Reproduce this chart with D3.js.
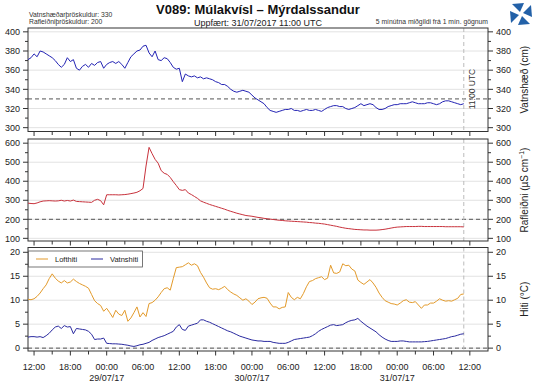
<!DOCTYPE html>
<html>
<head>
<meta charset="utf-8">
<script src="https://cdn.jsdelivr.net/npm/d3@7"></script>
<style>
  body { margin: 0; background: #fff; }
  svg { display: block; font-family: "Liberation Sans", Arial, Helvetica, sans-serif; }
</style>
</head>
<body>
<svg id="chart" width="540" height="387"></svg>
<script>
// --- gögn: 30 mínútna gildi frá 28/07/17 11:00 UTC til 31/07/17 11:00 UTC ---
const startTime = Date.UTC(2017, 6, 28, 11, 0);
const stepMinutes = 30;

const vatnshaed = [
  371, 373, 377, 374, 380, 379, 377, 375, 373, 370, 366, 363, 366, 373, 369, 371,
  362, 360, 364, 366, 363, 367, 365, 368, 369, 362, 366, 368, 369, 367, 369, 366,
  362, 368, 374, 377, 380, 381, 385, 386, 378, 374, 380, 371, 370, 373, 372, 368,
  363, 361, 362, 348, 356, 354, 353, 354, 352, 353, 351, 352, 351, 350, 348, 347,
  345, 345, 343, 340, 338, 337, 338, 339, 338, 337, 334, 331, 329, 327, 325, 321,
  318, 317, 316, 317, 318, 319, 319, 320, 318, 318, 317, 318, 319, 318, 318, 319,
  318, 317, 319, 321, 322, 323, 323, 322, 322, 320, 319, 320, 321, 323, 325, 323,
  324, 325, 324, 321, 319, 319, 320, 322, 323, 324, 324, 325, 325, 325, 326, 327,
  326, 325, 325, 325, 326, 326, 325, 324, 325, 327, 328, 328, 327, 326, 325, 324,
  325
];

const rafleidni = [
  285, 283, 282, 286, 292, 296, 297, 298, 297, 296, 297, 300, 296, 299, 296, 301,
  294, 293, 292, 291, 290, 289, 300, 305, 298, 276, 329, 329, 329, 329, 328, 329,
  330, 332, 335, 338, 342, 350, 362, 480, 578, 545, 515, 495, 456, 442, 436, 420,
  398, 378, 356, 352, 356, 338, 330, 320, 310, 297, 290, 284, 278, 273, 268, 263,
  258, 253, 247, 242, 237, 232, 228, 224, 220, 218, 216, 213, 210, 208, 205, 203,
  201, 199, 197, 195, 194, 192, 191, 190, 189, 188, 187, 186, 185, 183, 182, 180,
  179, 177, 175, 172, 169, 166, 163, 159, 156, 153, 151, 149, 147, 146, 145, 144,
  144, 143, 143, 143, 144, 146, 148, 151, 154, 157, 159, 160, 161, 162, 162, 162,
  162, 163, 163, 162, 162, 162, 162, 162, 162, 162, 161, 161, 161, 161, 161, 161,
  160
];

const lofthiti = [
  10.2, 10.1, 10.3, 10.8, 11.5, 12.4, 13.2, 14.5, 15.5, 14.6, 14.0, 13.6, 14.1, 13.6, 13.8, 14.4,
  13.9, 13.5, 13.2, 12.9, 12.5, 11.2, 9.9, 9.3, 8.9, 7.7, 8.3, 7.4, 6.4, 7.9, 7.1, 6.8,
  7.9, 5.6, 6.3, 7.4, 8.6, 6.5, 7.4, 6.6, 9.3, 9.5, 10.0, 10.7, 11.6, 12.4, 12.6, 12.1,
  14.5, 16.8, 16.9, 17.0, 17.4, 17.8, 17.3, 17.6, 17.2, 15.8, 14.8, 13.6, 12.6, 12.3, 12.4, 12.2,
  12.5, 12.9, 12.2, 11.7, 11.3, 11.0, 10.5, 10.0, 10.3, 9.8, 9.1, 9.6, 10.3, 10.5, 10.6, 10.4,
  9.4, 8.6, 8.6, 8.2, 8.5, 8.6, 11.6, 10.6, 10.1, 10.6, 10.3, 11.4, 12.8, 13.9, 14.1, 14.5,
  14.7, 14.9, 14.3, 14.6, 17.3, 15.7, 15.6, 15.9, 17.6, 17.2, 17.3, 16.5, 16.1, 14.2, 13.7, 13.3,
  13.8, 14.3, 13.6, 12.7, 11.5, 10.6, 9.9, 9.6, 9.3, 9.2, 9.0, 9.4, 9.9, 10.1, 9.6, 9.5,
  9.7, 9.0, 8.3, 9.0, 9.0, 9.4, 9.4, 9.8, 10.3, 10.0, 9.8, 9.9, 9.8, 10.1, 10.4, 11.2,
  11.3
];

const vatnshiti = [
  2.3, 2.4, 2.4, 2.3, 2.4, 2.2, 2.6, 3.1, 3.8, 4.4, 4.6, 4.1, 4.7, 4.4, 4.5, 3.0,
  4.1, 4.0, 3.9, 3.8, 3.5, 2.9, 1.8, 1.9, 1.9, 2.1, 1.0, 0.95, 0.9, 0.9, 0.85, 0.8,
  0.7, 0.6, 0.45, 0.35, 0.5, 0.7, 0.8, 1.0, 1.2, 1.6, 1.9, 2.2, 2.4, 2.6, 2.9, 3.2,
  3.5, 4.4, 4.9, 3.9, 3.7, 4.6, 4.8, 5.0, 5.2, 5.9, 5.9, 5.6, 5.4, 5.1, 4.8, 4.5,
  4.2, 3.9, 3.6, 3.4, 3.1, 2.8, 2.5, 2.3, 2.1, 1.9, 1.7, 1.6, 1.5, 1.5, 1.4, 1.4,
  1.4, 1.2, 1.1, 1.0, 1.0, 1.0, 1.2, 1.5, 1.8, 1.9, 2.0, 2.1, 2.2, 2.3, 2.6, 3.0,
  3.5, 3.9, 4.2, 4.5, 4.8, 4.9, 4.7, 4.8, 4.9, 5.3, 5.6, 5.8, 5.9, 6.2, 5.6, 5.1,
  4.6, 4.2, 3.8, 3.4, 2.8, 2.3, 1.9, 1.6, 1.4, 1.4, 1.4, 1.5, 1.5, 1.4, 1.3, 1.3,
  1.3, 1.3, 1.3, 1.35, 1.4, 1.5, 1.6, 1.7, 1.8, 1.9, 2.0, 2.2, 2.4, 2.5, 2.7, 2.9,
  3.0
];

const vatnshaedTicks = [300, 320, 340, 360, 380, 400];
const rafleidniTicks = [100, 200, 300, 400, 500, 600];
const hitiTicks = [0, 5, 10, 15, 20];
const thresholds = [330, 200, 0];

const times = vatnshaed.map((_, i) => new Date(startTime + i * stepMinutes * 60000));
const nowTime = new Date(Date.UTC(2017, 6, 31, 11, 0));

const svg = d3.select("#chart");
const L = 28, R = 488;

const x = d3.scaleUtc()
  .domain([new Date(Date.UTC(2017, 6, 28, 11)), new Date(Date.UTC(2017, 6, 31, 15))])
  .range([L, R]);

const panels = [
  { top: 28, bottom: 131.5, domain: [296, 404], ticks: vatnshaedTicks, minor: 10, thr: thresholds[0],
    title: "Vatnshæð (cm)" },
  { top: 139, bottom: 241, domain: [86, 622], ticks: rafleidniTicks, minor: 50, thr: thresholds[1],
    title: null },
  { top: 247.5, bottom: 351, domain: [-0.6, 21], ticks: hitiTicks, minor: 2.5, thr: thresholds[2],
    title: "Hiti (°C)" }
];
panels.forEach(p => { p.y = d3.scaleLinear().domain(p.domain).range([p.bottom, p.top]); });

const majorHours = d3.utcHour.every(6).range(x.domain()[0], x.domain()[1]);
const minorHours = d3.utcHour.every(3).range(x.domain()[0], x.domain()[1]);

function drawPanel(p) {
  const g = svg.append("g");
  // grid
  g.append("g").selectAll("line")
    .data(p.ticks)
    .join("line")
    .attr("x1", L).attr("x2", R)
    .attr("y1", d => p.y(d)).attr("y2", d => p.y(d))
    .attr("stroke", "#e2e2e2").attr("stroke-width", 1);

  // threshold
  g.append("line")
    .attr("x1", L).attr("x2", R)
    .attr("y1", p.y(p.thr)).attr("y2", p.y(p.thr))
    .attr("stroke", "#555").attr("stroke-width", 1)
    .attr("stroke-dasharray", "4,3");

  // 11:00 lína
  g.append("line")
    .attr("x1", x(nowTime)).attr("x2", x(nowTime))
    .attr("y1", p.top).attr("y2", p.bottom)
    .attr("stroke", "#bbb").attr("stroke-width", 1)
    .attr("stroke-dasharray", "4,3");

  // ásar vinstri/hægri
  const minorVals = d3.range(Math.ceil(p.domain[0] / p.minor) * p.minor, p.domain[1], p.minor);
  [[L, -1], [R, 1]].forEach(([xx, dir]) => {
    g.append("g").selectAll("line")
      .data(minorVals)
      .join("line")
      .attr("x1", xx).attr("x2", d => xx + dir * (p.ticks.includes(d) ? 5 : 3))
      .attr("y1", d => p.y(d)).attr("y2", d => p.y(d))
      .attr("stroke", "#333");
    g.append("g").selectAll("text")
      .data(p.ticks)
      .join("text")
      .attr("x", xx + dir * 8)
      .attr("y", d => p.y(d) + 3.2)
      .attr("text-anchor", dir < 0 ? "end" : "start")
      .attr("font-size", 9)
      .attr("fill", "#222")
      .text(d => d);
  });

  // tímatikk neðst
  g.append("g").selectAll("line")
    .data(minorHours)
    .join("line")
    .attr("x1", d => x(d)).attr("x2", d => x(d))
    .attr("y1", p.bottom).attr("y2", d => p.bottom + (d.getUTCHours() % 6 === 0 ? 4.5 : 3.5))
    .attr("stroke", "#333");

  // rammi
  g.append("rect")
    .attr("x", L).attr("y", p.top)
    .attr("width", R - L).attr("height", p.bottom - p.top)
    .attr("fill", "none").attr("stroke", "#333").attr("stroke-width", 1);
  return g;
}

panels.forEach(drawPanel);

function drawSeries(p, values, color) {
  const line = d3.line()
    .x((d, i) => x(times[i]))
    .y(d => p.y(d));
  svg.append("path")
    .datum(values)
    .attr("d", line)
    .attr("fill", "none")
    .attr("stroke", color)
    .attr("stroke-width", 1)
    .attr("stroke-linejoin", "round");
}

drawSeries(panels[0], vatnshaed, "#2323b4");
drawSeries(panels[1], rafleidni, "#c8323c");
drawSeries(panels[2], lofthiti, "#e39a2a");
drawSeries(panels[2], vatnshiti, "#2a2aa0");

// x-ás texti
const xLab = svg.append("g");
xLab.selectAll("text.hr")
  .data(majorHours)
  .join("text")
  .attr("class", "hr")
  .attr("x", d => x(d))
  .attr("y", 370)
  .attr("text-anchor", "middle")
  .attr("font-size", 9)
  .attr("fill", "#222")
  .text(d3.utcFormat("%H:%M"));
xLab.selectAll("text.day")
  .data(majorHours.filter(d => d.getUTCHours() === 0))
  .join("text")
  .attr("class", "day")
  .attr("x", d => x(d))
  .attr("y", 381)
  .attr("text-anchor", "middle")
  .attr("font-size", 9)
  .attr("fill", "#222")
  .text(d3.utcFormat("%d/%m/%y"));

// 11:00 UTC merki
svg.append("text")
  .attr("transform", `translate(${x(nowTime) + 11},89) rotate(-90)`)
  .attr("text-anchor", "middle")
  .attr("font-size", 8.5)
  .attr("fill", "#333")
  .text("11:00 UTC");

// hægri ásaheiti
const yTitleX = 528;
svg.append("text")
  .attr("transform", `translate(${yTitleX},${(panels[0].top + panels[0].bottom) / 2}) rotate(-90)`)
  .attr("text-anchor", "middle").attr("font-size", 10).attr("fill", "#222")
  .text(panels[0].title);
const raf = svg.append("text")
  .attr("transform", `translate(${yTitleX},${(panels[1].top + panels[1].bottom) / 2}) rotate(-90)`)
  .attr("text-anchor", "middle").attr("font-size", 10).attr("fill", "#222");
raf.append("tspan").text("Rafleiðni (µS cm");
raf.append("tspan").attr("font-size", 7).attr("dy", -4).text("−1");
raf.append("tspan").attr("dy", 4).text(")");
svg.append("text")
  .attr("transform", `translate(${yTitleX},${(panels[2].top + panels[2].bottom) / 2}) rotate(-90)`)
  .attr("text-anchor", "middle").attr("font-size", 10).attr("fill", "#222")
  .text(panels[2].title);

// skýringar
const legend = svg.append("g");
legend.append("rect")
  .attr("x", L + 0.5).attr("y", 251).attr("width", 114).attr("height", 16)
  .attr("fill", "#fff").attr("stroke", "#555").attr("stroke-width", 0.8);
[["Lofthiti", "#e39a2a", 36], ["Vatnshiti", "#2a2aa0", 91]].forEach(([name, col, lx]) => {
  legend.append("line")
    .attr("x1", lx).attr("x2", lx + 12).attr("y1", 259).attr("y2", 259)
    .attr("stroke", col).attr("stroke-width", 1);
  legend.append("text")
    .attr("x", lx + 19).attr("y", 262)
    .attr("font-size", 7.5).attr("fill", "#222")
    .text(name);
});

// fyrirsagnir
svg.append("text")
  .attr("x", 258).attr("y", 13.5)
  .attr("text-anchor", "middle")
  .attr("font-size", 13).attr("font-weight", "bold").attr("fill", "#111")
  .text("V089: Múlakvísl – Mýrdalssandur");
svg.append("text")
  .attr("x", 258).attr("y", 26)
  .attr("text-anchor", "middle")
  .attr("font-size", 9).attr("fill", "#222")
  .text("Uppfært: 31/07/2017 11:00 UTC");
svg.append("text")
  .attr("x", 29).attr("y", 17)
  .attr("font-size", 6.8).attr("fill", "#333")
  .text("Vatnshæðarþröskuldur: 330");
svg.append("text")
  .attr("x", 29).attr("y", 23.5)
  .attr("font-size", 6.8).attr("fill", "#333")
  .text("Rafleiðniþröskuldur: 200");
svg.append("text")
  .attr("x", R).attr("y", 24)
  .attr("text-anchor", "end")
  .attr("font-size", 6.8).attr("fill", "#333")
  .text("5 mínútna miðgildi frá 1 mín. gögnum");

// merki Veðurstofunnar (einfaldað, fjórir þríhyrningar)
const logo = svg.append("g").attr("transform", "translate(521,14)");
[0, 90, 180, 270].forEach(a => {
  logo.append("path")
    .attr("d", "M-1,-2 L-9,-10 L3,-11 Z")
    .attr("transform", `rotate(${a})`)
    .attr("fill", "#2361a8");
});
</script>
</body>
</html>
